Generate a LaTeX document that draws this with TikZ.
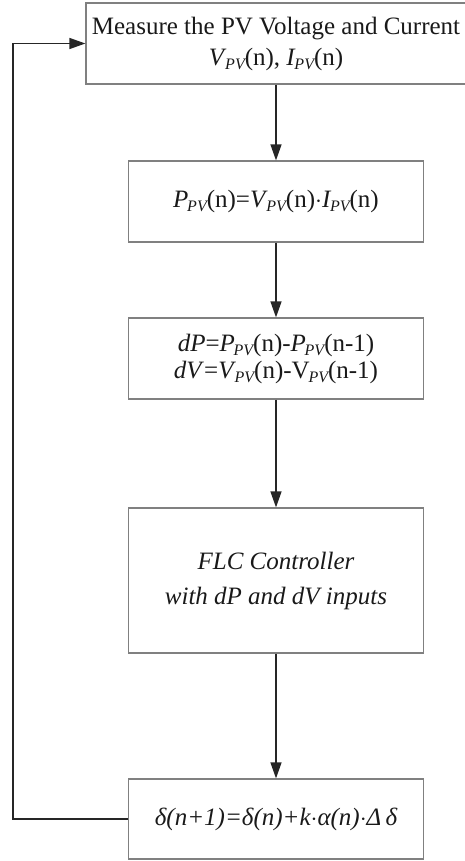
\documentclass[tikz,border=0pt]{standalone}
\usepackage{fontspec}
\setmainfont{Liberation Serif}
\usetikzlibrary{arrows.meta}
\newcommand\pvsub[1]{\kern-0.05em\raisebox{-0.16em}{\fontsize{16}{16}\selectfont\itshape #1}}
\begin{document}
\begin{tikzpicture}[x=1pt,y=-1pt,
  box/.style={draw=black!50,line width=1.2pt,rectangle,minimum width=295pt,inner sep=0pt,
    align=center,font=\fontsize{25}{31}\selectfont,text=black!90},
  flow/.style={draw=black!85,line width=1.3pt,-{Triangle[length=16pt,width=11pt]}}]
\useasboundingbox (0,0) rectangle (465,861);
\clip (0,0) rectangle (465,861);
\node[box,minimum width=380pt,minimum height=81pt] (b1) at (276,43.5)
  {Measure the PV Voltage and Current\\\textit{V}\pvsub{PV}(n), \textit{I}\pvsub{PV}(n)};
\node[box,minimum height=81pt] (b2) at (276,201.5)
  {\textit{P}\pvsub{PV}(n)=\textit{V}\pvsub{PV}(n)$\cdot$\textit{I}\pvsub{PV}(n)};
\node[box,minimum height=81pt,font=\fontsize{25}{27}\selectfont] (b3) at (276,358.5)
  {\textit{dP}=\textit{P}\pvsub{PV}(n)-\textit{P}\pvsub{PV}(n-1)\\\textit{dV}=\textit{V}\pvsub{PV}(n)-V\pvsub{PV}(n-1)};
\node[box,minimum height=145pt,font=\fontsize{25}{35}\selectfont\itshape] (b4) at (276,580.5)
  {FLC Controller\\with dP and dV inputs};
\node[box,minimum height=80pt,font=\fontsize{25}{31}\selectfont\itshape] (b5) at (276,819)
  {δ(n+1)=δ(n)+k$\cdot$α(n)$\cdot$Δ\,δ};
\draw[flow] (b1.south) -- (b2.north);
\draw[flow] (b2.south) -- (b3.north);
\draw[flow] (b3.south) -- (b4.north);
\draw[flow] (b4.south) -- (b5.north);
\coordinate (c1) at (13,819);
\coordinate (c2) at (13,43.5);
\draw[flow] (b5.west) -- (c1) -- (c2) -- (b1.west);
\end{tikzpicture}
\end{document}
